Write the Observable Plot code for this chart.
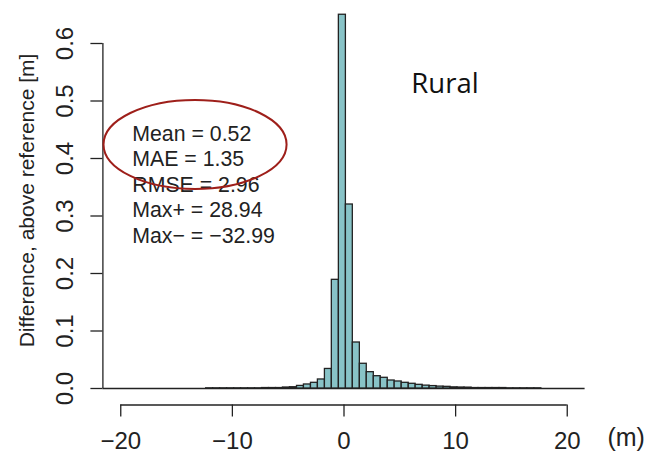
<!DOCTYPE html>
<html><head><meta charset="utf-8">
<script src="https://cdn.jsdelivr.net/npm/d3@7"></script>
<script src="https://cdn.jsdelivr.net/npm/@observablehq/plot@0.6"></script>
<style>
html,body{margin:0;padding:0;background:#fff;}
#chart{width:652px;height:452px;}
</style></head><body><div id="chart"></div>
<script>
// histogram bin edges (visible part) and heights
const binEdges = [-21.73, -21.11, -20.48, -19.85, -19.23, -18.60, -17.98, -17.35, -16.73, -16.10,
  -15.47, -14.85, -14.22, -13.60, -12.97, -12.35, -11.72, -11.10, -10.47, -9.84,
  -9.22, -8.59, -7.97, -7.34, -6.72, -6.09, -5.47, -4.84, -4.21, -3.59,
  -2.96, -2.34, -1.71, -1.09, -0.46, 0.17, 0.79, 1.42, 2.04, 2.67,
  3.29, 3.92, 4.54, 5.17, 5.80, 6.42, 7.05, 7.67, 8.30, 8.92,
  9.55, 10.17, 10.80, 11.43, 12.05, 12.68, 13.30, 13.93, 14.55, 15.18,
  15.80, 16.43, 17.06, 17.68, 18.31, 18.93, 19.56, 20.18, 20.81, 21.43, 22.06];
const density = [0, 0, 0, 0, 0, 0, 0, 0, 0, 0,
  0, 0, 0, 0, 0, 0.0003, 0.0003, 0.0003, 0.0003, 0.0003,
  0.0003, 0.0003, 0.0003, 0.0008, 0.0008, 0.0008, 0.0017, 0.0022, 0.0045, 0.007,
  0.0099, 0.0157, 0.034, 0.189, 0.650, 0.320, 0.080, 0.043, 0.0284, 0.0214,
  0.0186, 0.0139, 0.0122, 0.0099, 0.0082, 0.0064, 0.0050, 0.0042, 0.0033, 0.0029,
  0.0020, 0.0017, 0.0015, 0.0008, 0.0008, 0.0008, 0.0008, 0.0008, 0.0003, 0.0003,
  0.0003, 0.0003, 0.0003, 0, 0, 0, 0, 0, 0, 0];
const xTicks = [-20, -10, 0, 10, 20];
const yTicks = [0, 0.1, 0.2, 0.3, 0.4, 0.5, 0.6];
const xDomain = [-21.6, 21.6];
const yDomain = [0, 0.67];
const yTitle = "Difference, above reference [m]";
const panelLabel = "Rural";
const unitLabel = "(m)";
const statLines = ["Mean = 0.52", "MAE = 1.35", "RMSE = 2.96", "Max+ = 28.94", "Max\u2212 = \u221232.99"];
// annotation positions in data units
const statPos = [-18.97, 0.4625];
const panelPos = [6.03, 0.5297];
const unitPos = [23.6, -0.0855];
const ellipseCenter = [-13.3, 0.4235];
const ellipseRadii = [8.2, 0.0774];

const bins = density.map((d, i) => ({x1: binEdges[i], x2: binEdges[i + 1], y: d}));
const ink = "#222";

const plot = Plot.plot({
  width: 652, height: 452,
  marginLeft: 102.4, marginRight: 67.4, marginTop: 2.75, marginBottom: 64,
  x: {domain: xDomain},
  y: {domain: yDomain},
  style: {fontFamily: "'Liberation Sans', Arial, sans-serif", color: ink, background: "#fff", overflow: "visible"},
  marks: [
    Plot.ruleY([0], {stroke: ink, strokeWidth: 1.3}),
    Plot.rectY(bins, {x1: "x1", x2: "x2", y: "y", fill: "#88c3c7", stroke: ink, strokeWidth: 1.3}),
    Plot.ruleX([xDomain[0]], {y1: yTicks[0], y2: yTicks[yTicks.length - 1], stroke: ink, strokeWidth: 1.3}),
    Plot.axisY(yTicks, {anchor: "left", tickSize: 12, tickRotate: -90, tickPadding: 18, tickFormat: d3.format(".1f"), fontSize: 24, label: null, strokeWidth: 1.3}),
    Plot.ruleY([0], {x1: xTicks[0], x2: xTicks[xTicks.length - 1], dy: 16.5, stroke: ink, strokeWidth: 1.3}),
    Plot.axisX(xTicks, {anchor: "bottom", tickSize: 12, dy: 16.5, tickPadding: 14.5, fontSize: 24, label: null, strokeWidth: 1.3}),
    Plot.text([yTitle], {frameAnchor: "left", rotate: -90, textAnchor: "middle", lineAnchor: "middle", dx: -76, dy: 4.6, fontSize: 21, text: d => d, fill: ink}),
    Plot.text([statLines.join("\n")], {x: statPos[0], y: statPos[1], text: d => d, textAnchor: "start", lineAnchor: "top", lineHeight: 1.2, fontSize: 21.3, fill: ink}),
    Plot.text([panelLabel], {x: panelPos[0], y: panelPos[1], text: d => d, textAnchor: "start", fontSize: 27.5, fontFamily: "'Open Sans', sans-serif", fill: "#111"}),
    Plot.text([unitLabel], {x: unitPos[0], y: unitPos[1], text: d => d, textAnchor: "start", fontSize: 25, fill: ink})
  ]
});

const xs = plot.scale("x"), ys = plot.scale("y");
const cx = xs.apply(ellipseCenter[0]), cy = ys.apply(ellipseCenter[1]);
d3.select(plot).append("ellipse")
  .attr("cx", cx).attr("cy", cy)
  .attr("rx", xs.apply(ellipseCenter[0] + ellipseRadii[0]) - cx)
  .attr("ry", ys.apply(ellipseCenter[1] - ellipseRadii[1]) - cy)
  .attr("fill", "none").attr("stroke", "#9e1f1a").attr("stroke-width", 2);

document.getElementById("chart").appendChild(plot);
</script></body></html>
